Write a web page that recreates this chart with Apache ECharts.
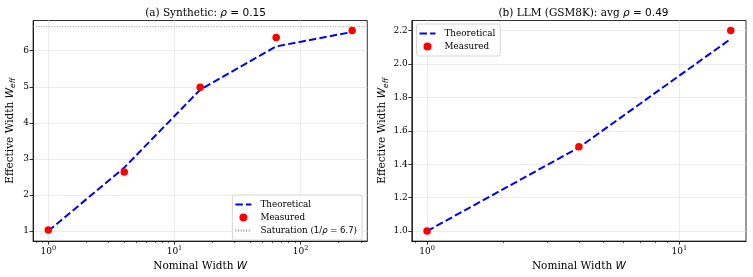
<!DOCTYPE html>
<html>
<head>
<meta charset="utf-8">
<script src="https://cdn.jsdelivr.net/npm/echarts@6/dist/echarts.min.js"></script>
<style>
html,body{margin:0;padding:0;background:#fff;}
#c{width:753px;height:277px;}
</style>
</head>
<body>
<div id="c"></div>
<script>
// ---- data ----
const synW = [1, 4, 16, 64, 256];
const synTheory = [1.0, 2.76, 4.92, 6.12, 6.52];
const synMeasured = [1.03, 2.64, 4.99, 6.37, 6.56];
const synSaturation = 6.667;
const llmW = [1, 4, 16];
const llmTheory = [1.0, 1.50, 2.15];
const llmMeasured = [1.0, 1.505, 2.20];
const synXTicks = [1, 10, 100];
const llmXTicks = [1, 10];
const synYTicks = [1, 2, 3, 4, 5, 6];
const llmYTicks = [1.0, 1.2, 1.4, 1.6, 1.8, 2.0, 2.2];
const synMinor = [0.8, 0.9, 2, 3, 4, 5, 6, 7, 8, 9, 20, 30, 40, 50, 60, 70, 80, 90, 200, 300];
const llmMinor = [0.9, 2, 3, 4, 5, 6, 7, 8, 9];

// axis ranges
const synXR = [0.758, 337.5], synYR = [0.722, 6.838];
const llmXR = [0.870, 18.39], llmYR = [0.94, 2.26];

const SERIF = '"DejaVu Serif", serif';
const SANS = '"DejaVu Sans", sans-serif';
function logLab(v){ const e = Math.round(Math.log10(v)); return '{b|10}{e|' + e + '}'; }

const gridColor = '#e6e6e6';
function xMain(gi, r, ticks){
  return {type:'log', logBase:10, gridIndex:gi, min:r[0], max:r[1], position:'bottom',
    name:'{s|Nominal Width }{i|W}', nameLocation:'middle', nameGap:15,
    nameTextStyle:{rich:{s:{fontFamily:SERIF,fontSize:10.5,color:'#000'},i:{fontFamily:SANS,fontStyle:'italic',fontSize:10.5,color:'#000'}}},
    axisLine:{show:true,lineStyle:{color:'#000',width:0.8}},
    axisTick:{show:true,length:3.5,lineStyle:{color:'#000',width:0.8},customValues:ticks},
    axisLabel:{customValues:ticks,formatter:logLab,color:'#000',margin:4,
      rich:{b:{fontFamily:SERIF,fontSize:9,color:'#000',lineHeight:13},e:{fontFamily:SERIF,fontSize:6.5,color:'#000',verticalAlign:'top',lineHeight:8}}},
    splitLine:{show:true,lineStyle:{color:gridColor,width:0.8}},
    minorTick:{show:false}, minorSplitLine:{show:false}};
}
function xMinor(gi, r, ticks){
  return {type:'log', logBase:10, gridIndex:gi, min:r[0], max:r[1], position:'bottom',
    axisLine:{show:false}, axisLabel:{show:false}, splitLine:{show:false},
    axisTick:{show:true,length:2,lineStyle:{color:'#000',width:0.6},customValues:ticks}};
}
function yMain(gi, r, ticks, dec, gap){
  return {type:'value', gridIndex:gi, min:r[0], max:r[1], position:'left',
    name:'{s|Effective Width }{i|W}{sub|eff}', nameLocation:'middle', nameRotate:90, nameGap:gap,
    nameTextStyle:{rich:{s:{fontFamily:SERIF,fontSize:10.5,color:'#000',lineHeight:14},
      i:{fontFamily:SANS,fontStyle:'italic',fontSize:10.5,color:'#000',lineHeight:14},
      sub:{fontFamily:SANS,fontStyle:'italic',fontSize:7.5,color:'#000',verticalAlign:'bottom',lineHeight:10}}},
    axisLine:{show:true,lineStyle:{color:'#000',width:0.8}},
    axisTick:{show:true,length:3.5,lineStyle:{color:'#000',width:0.8},customValues:ticks},
    axisLabel:{customValues:ticks,formatter:v=>v.toFixed(dec),fontFamily:SERIF,fontSize:9,color:'#000',margin:4},
    splitLine:{show:true,lineStyle:{color:gridColor,width:0.8}}};
}

const theoStyle = {color:'#0000ff', width:2, type:[7.4,3.2]};
const measStyle = {color:'#ff0000', opacity:1};
const titleRich = {s:{fontFamily:SERIF,fontSize:10.5,color:'#000'},i:{fontFamily:SANS,fontStyle:'italic',fontSize:10.5,color:'#000'},m:{fontFamily:SANS,fontSize:10.5,color:'#000'}};
function legendFmt(name){
  const k = name.indexOf('(1/');
  if (k < 0) return '{s|' + name + '}';
  return '{s|' + name.slice(0, k + 1) + '}{m|1/}{i|ρ}{m| = 6.7}{s|)}';
}
const legendBase = {orient:'vertical', padding:[5,5,5,2], itemGap:4, itemWidth:16, itemHeight:8,
     borderColor:'#cccccc', borderWidth:0.8, borderRadius:2, backgroundColor:'rgba(255,255,255,0.85)',
     formatter:legendFmt,
     textStyle:{color:'#000',padding:[0,0,0,4],
       rich:{s:{fontFamily:SERIF,fontSize:8.8,color:'#000'},m:{fontFamily:SANS,fontSize:8.5,color:'#000'},i:{fontFamily:SANS,fontStyle:'italic',fontSize:8.5,color:'#000'}}}};

const chart = echarts.init(document.getElementById('c'), null, {renderer:'canvas'});
chart.setOption({
  animation:false,
  backgroundColor:'#fff',
  title:[
    {text:'{s|(a) Synthetic: }{i|ρ}{m| = 0.15}', left:200.5, top:3, textAlign:'center',
     textStyle:{fontWeight:'normal', rich:titleRich}},
    {text:'{s|(b) LLM (GSM8K): avg }{i|ρ}{m| = 0.49}', left:578.5, top:3, textAlign:'center',
     textStyle:{fontWeight:'normal', rich:titleRich}}
  ],
  grid:[
    {left:33.1, top:20.5, width:334.2, height:221.5, show:true, borderColor:'#000', borderWidth:0.8, backgroundColor:'transparent'},
    {left:411.8, top:20.5, width:334.2, height:221.5, show:true, borderColor:'#000', borderWidth:0.8, backgroundColor:'transparent'}
  ],
  xAxis:[ xMain(0, synXR, synXTicks), xMain(1, llmXR, llmXTicks), xMinor(0, synXR, synMinor), xMinor(1, llmXR, llmMinor) ],
  yAxis:[ yMain(0, synYR, synYTicks, 0, 16), yMain(1, llmYR, llmYTicks, 1, 22) ],
  legend:[
    Object.assign({}, legendBase, {right:391, bottom:37,
     data:[{name:'Theoretical'},{name:'Measured'},{name:'Saturation (1/ρ = 6.7)'}]}),
    Object.assign({}, legendBase, {left:416.5, top:24,
     data:[{name:'Theoretical'},{name:'Measured'}]})
  ],
  series:[
    {name:'Saturation (1/ρ = 6.7)', type:'line', xAxisIndex:0, yAxisIndex:0, symbol:'none',
     lineStyle:{color:'#808080', opacity:0.8, width:1, type:[1,1.65]}, itemStyle:{color:'#808080', opacity:0},
     data:[[synXR[0], synSaturation],[synXR[1], synSaturation]], z:1},
    {name:'Theoretical', type:'line', xAxisIndex:0, yAxisIndex:0, symbol:'none', lineStyle:theoStyle, itemStyle:{color:'#0000ff', opacity:0},
     data:synW.map((w,i)=>[w,synTheory[i]]), z:2},
    {name:'Measured', type:'scatter', xAxisIndex:0, yAxisIndex:0, symbol:'circle', symbolSize:7.5, itemStyle:measStyle,
     data:synW.map((w,i)=>[w,synMeasured[i]]), z:3},
    {name:'Theoretical', type:'line', xAxisIndex:1, yAxisIndex:1, symbol:'none', lineStyle:theoStyle, itemStyle:{color:'#0000ff', opacity:0},
     data:llmW.map((w,i)=>[w,llmTheory[i]]), z:2},
    {name:'Measured', type:'scatter', xAxisIndex:1, yAxisIndex:1, symbol:'circle', symbolSize:7.5, itemStyle:measStyle,
     data:llmW.map((w,i)=>[w,llmMeasured[i]]), z:3}
  ]
});
</script>
</body>
</html>
